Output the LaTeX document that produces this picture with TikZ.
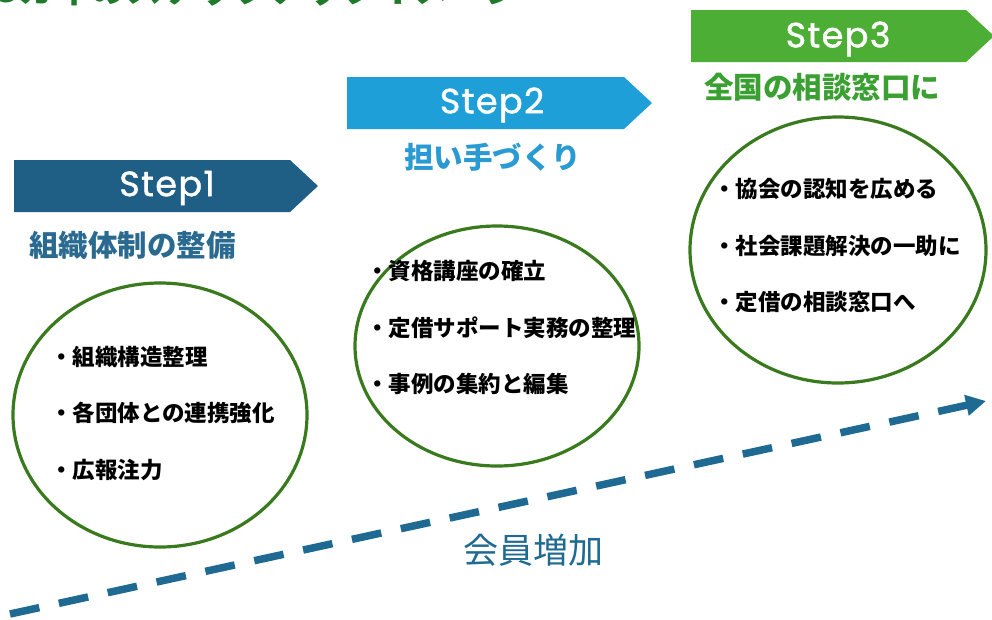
\documentclass[tikz,border=0pt]{standalone}
\usepackage{fontspec}
\setmainfont{Poppins}
\newfontfamily\jp{Noto Sans CJK JP}
\usetikzlibrary{arrows.meta}
\definecolor{sOne}{HTML}{1F5F86}
\definecolor{sTwo}{HTML}{1E9FD8}
\definecolor{sThree}{HTML}{4DAE36}
\definecolor{subOne}{HTML}{2A6A90}
\definecolor{subTwo}{HTML}{2A9AD2}
\definecolor{subThree}{HTML}{3AA032}
\definecolor{ring}{HTML}{3A7A1E}
\definecolor{arr}{HTML}{1F6A92}
\definecolor{ttl}{HTML}{1F7A2C}
\tikzset{
  banner/.style={fill=#1, draw=none},
  steplabel/.style={text=white, font=\fontsize{35}{35}\selectfont\addfontfeatures{LetterSpace=4,FakeBold=1.2}, inner sep=0pt},
  subtitle/.style={font=\jp\bfseries\fontsize{29.5}{30}\selectfont, anchor=west, inner sep=0pt},
  ringshape/.style={draw=ring, line width=3.2pt, fill=white},
  item/.style={font=\jp\bfseries\fontsize{22.5}{23}\selectfont, anchor=west, inner sep=0pt},
}
\begin{document}
\begin{tikzpicture}[x=1pt,y=-1pt]
\path[use as bounding box] (0,0) rectangle (992,619);
\clip (0,0) rectangle (992,619);
\fill[white] (0,0) rectangle (992,619);
% cut-off title
\node[anchor=base west, inner sep=0pt, text=ttl, font=\jp\bfseries\fontsize{36}{36}\selectfont] (title) at (-4,2) {3カ年のステップアップイメージ};
% banners
\fill[banner=sOne] (14,160) -- (290,160) -- (318,186) -- (290,212) -- (14,212) -- cycle;
\node[steplabel] (s1) at (167,188) {Step1};
\fill[banner=sTwo] (347,77) -- (624,77) -- (652,103) -- (624,129) -- (347,129) -- cycle;
\node[steplabel] (s2) at (492,105) {Step2};
\fill[banner=sThree] (691,10) -- (966,10) -- (994,36) -- (966,62) -- (691,62) -- cycle;
\node[steplabel] (s3) at (838,39) {Step3};
% subtitles
\node[subtitle, text=subOne] (t1) at (29,245) {組織体制の整備};
\node[subtitle, text=subTwo] (t2) at (404,157) {担い手づくり};
\node[subtitle, text=subThree] (t3) at (704,87) {全国の相談窓口に};
% dashed arrow
\coordinate (a0) at (10,614);
\coordinate (a1) at (986,401);
\draw[arr, line width=7.5pt, dash pattern=on 30pt off 20pt, -{Triangle[length=20pt,width=20pt]}] (a0) -- (a1);
\node[font=\jp\fontsize{35}{35}\selectfont, text=arr, inner sep=0pt] (grow) at (533,550) {会員増加};
% rings
\draw[ringshape] (160,415) ellipse [x radius=147, y radius=132];
\draw[ringshape] (497,346) ellipse [x radius=142, y radius=120];
\draw[ringshape] (838,250) ellipse [x radius=148, y radius=133];
% items
\node[item] (i11) at (50,357) {・組織構造整理};
\node[item] (i12) at (50,413) {・各団体との連携強化};
\node[item] (i13) at (50,470) {・広報注力};
\node[item] (i21) at (366,271) {・資格講座の確立};
\node[item] (i22) at (366,328) {・定借サポート実務の整理};
\node[item] (i23) at (366,384) {・事例の集約と編集};
\node[item] (i31) at (713,189) {・協会の認知を広める};
\node[item] (i32) at (713,246) {・社会課題解決の一助に};
\node[item] (i33) at (713,302) {・定借の相談窓口へ};
\end{tikzpicture}
\end{document}
